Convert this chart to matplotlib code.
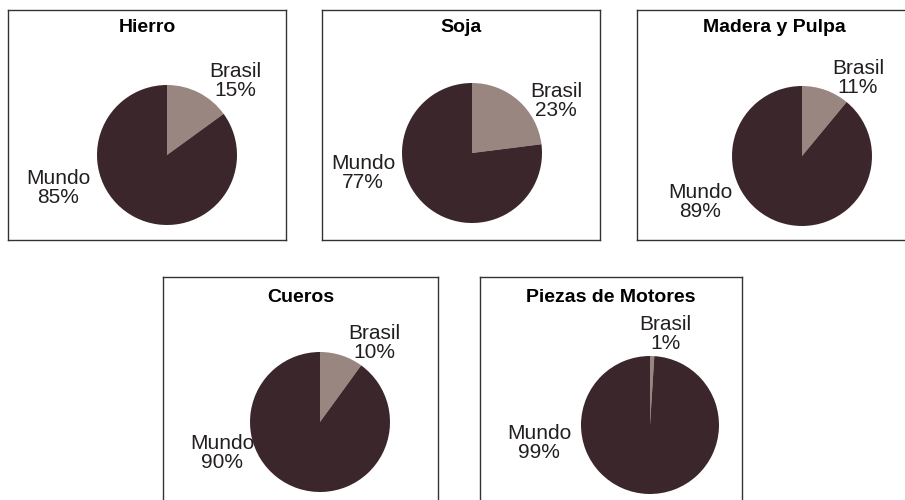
import matplotlib.pyplot as plt

plt.rcParams["font.family"] = ["Liberation Sans", "DejaVu Sans"]

W, H = 905, 500

titles = ["Hierro", "Soja", "Madera y Pulpa", "Cueros", "Piezas de Motores"]
brasil = [15, 23, 11, 10, 1]
mundo = [85, 77, 89, 90, 99]
names = ["Brasil", "Mundo"]

# layout in pixels: box (left, top, right, bottom), pie centre + radius, label centres
boxes = [(8, 10, 286, 240), (322, 10, 600, 240), (637, 10, 912, 240),
         (163, 277, 438, 510), (480, 277, 742, 510)]
centres = [(167, 155, 70), (472, 153, 70), (802, 156, 70), (320, 422, 70), (650, 425, 69)]
brasil_pos = [(235, 81), (556, 101), (858, 78), (374, 343), (665, 334)]
mundo_pos = [(58, 188), (363, 173), (700, 202), (222, 453), (539, 443)]
title_y = [28, 28, 28, 297, 297]

dark = "#3b272b"
light = "#9a8680"
ink = "#231f20"

fig = plt.figure(figsize=(W / 100, H / 100), dpi=100)

for i, t in enumerate(titles):
    l, tp, r, b = boxes[i]
    w, h = r - l, b - tp
    ax = fig.add_axes([l / W, 1 - b / H, w / W, h / H])
    cx, cy, rad = centres[i]
    ax.pie([brasil[i], mundo[i]], colors=[light, dark], startangle=90,
           counterclock=False, center=(cx - l, b - cy), radius=rad, frame=True,
           wedgeprops=dict(linewidth=0))
    ax.set_xlim(0, w)
    ax.set_ylim(0, h)
    ax.set_aspect("auto")
    ax.set_xticks([])
    ax.set_yticks([])
    for s in ax.spines.values():
        s.set_color("#333333")
        s.set_linewidth(1)
    ax.text((l + r) / 2 - l, b - title_y[i], t, ha="center", va="center",
            fontsize=14, fontweight="bold", color="black")
    bx, by = brasil_pos[i]
    ax.text(bx - l, b - by, f"{names[0]}\n{brasil[i]}%", ha="center", va="center",
            fontsize=15, color=ink, linespacing=1.0)
    mx, my = mundo_pos[i]
    ax.text(mx - l, b - my, f"{names[1]}\n{mundo[i]}%", ha="center", va="center",
            fontsize=15, color=ink, linespacing=1.0)

fig.savefig("out.png", dpi=100)
